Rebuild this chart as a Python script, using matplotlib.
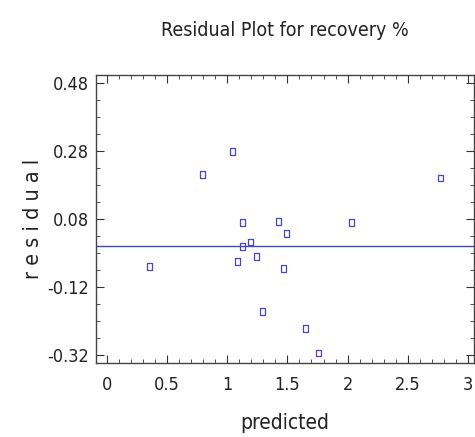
import matplotlib
matplotlib.use("Agg")
import matplotlib.pyplot as plt
import numpy as np

# residuals vs predicted values
predicted = [0.357, 0.795, 1.042, 1.125, 1.125, 1.083, 1.191, 1.247,
             1.291, 1.424, 1.496, 1.466, 1.649, 1.757, 2.034, 2.768]
residual = [-0.058, 0.211, 0.279, 0.070, -0.001, -0.044, 0.013, -0.030,
            -0.191, 0.074, 0.039, -0.064, -0.241, -0.313, 0.071, 0.201]

xticks = [0, 0.5, 1, 1.5, 2, 2.5, 3]
xticklabels = ["0", "0.5", "1", "1.5", "2", "2.5", "3"]
yticks = [-0.32, -0.12, 0.08, 0.28, 0.48]
yticklabels = ["-0.32", "-0.12", "0.08", "0.28", "0.48"]

plt.rcParams["font.family"] = ["DejaVu Sans"]
plt.rcParams["font.stretch"] = "condensed"
blue = "#4646c8"

fig = plt.figure(figsize=(4.75, 4.37), dpi=100)
ax = fig.add_axes([0.202, 0.169, 0.796, 0.659])

# tall, narrow open square marker
rect = [(-0.75, -1), (0.75, -1), (0.75, 1), (-0.75, 1), (-0.75, -1)]
ax.scatter(predicted, residual, marker=rect, s=24, facecolors="none",
           edgecolors=blue, linewidths=0.9, zorder=3)
ax.axhline(0, color=blue, lw=1.0)

ax.set_xlim(-0.09, 3.05)
ax.set_ylim(-0.343, 0.503)
ax.set_xticks(xticks)
ax.set_xticklabels(xticklabels)
ax.set_yticks(yticks)
ax.set_yticklabels(yticklabels)
ax.set_xticks(np.arange(0, 3.01, 0.1), minor=True)
ax.set_yticks(np.arange(-0.32, 0.49, 0.05), minor=True)
ax.tick_params(which="both", direction="in", top=True, right=True,
               labelsize=13, colors="#333333", labelcolor="#222222")
ax.tick_params(which="major", length=6, width=0.8, pad=5)
ax.tick_params(axis="x", which="major", pad=9)
ax.tick_params(which="minor", length=3, width=0.6)
for s in ax.spines.values():
    s.set_color("#444444")
    s.set_linewidth(1.0)

ax.set_title("Residual Plot for recovery %", fontsize=14, pad=28, color="#222222")
ax.set_xlabel("predicted", fontsize=15, labelpad=14, color="#222222")
ax.set_ylabel("r e s i d u a l", fontsize=15.5, labelpad=3, color="#222222")

fig.savefig("out.png", dpi=100, facecolor="white")
